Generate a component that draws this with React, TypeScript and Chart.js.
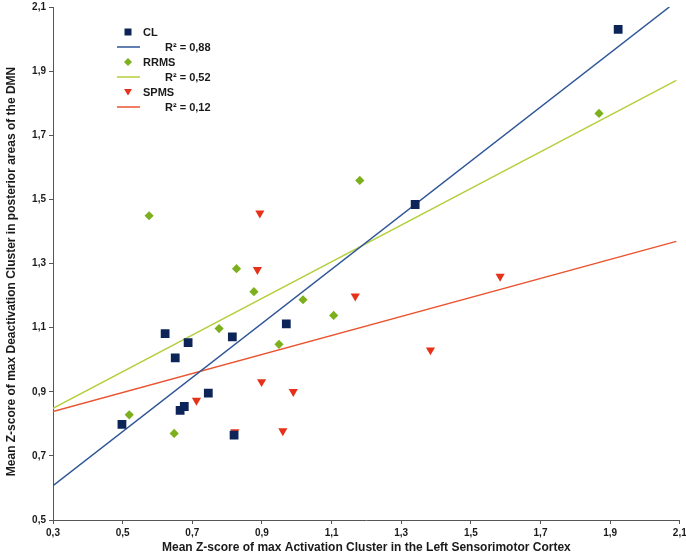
import React, { useEffect, useRef } from "react";
import { Chart, registerables } from "chart.js";

Chart.register(...registerables);

// ---- data ----
const seriesNames = ["CL", "RRMS", "SPMS"];
const r2Labels = ["R² = 0,88", "R² = 0,52", "R² = 0,12"];

const clX = [0.498, 0.622, 0.651, 0.688, 0.665, 0.677, 0.746, 0.815, 0.82, 0.97, 1.34, 1.923];
const clY = [0.798, 1.081, 1.006, 1.053, 0.842, 0.854, 0.896, 1.071, 0.765, 1.112, 1.484, 2.03];

const rrmsX = [0.519, 0.576, 0.648, 0.777, 0.827, 0.877, 0.949, 1.018, 1.106, 1.181, 1.868];
const rrmsY = [0.828, 1.449, 0.77, 1.097, 1.284, 1.212, 1.048, 1.187, 1.138, 1.559, 1.768];

const spmsX = [0.712, 0.822, 0.887, 0.894, 0.899, 0.96, 0.99, 1.168, 1.384, 1.584];
const spmsY = [0.873, 0.775, 1.281, 1.457, 0.931, 0.778, 0.9, 1.198, 1.03, 1.26];

const clFitX = [0.3, 2.07];
const clFitY = [0.607, 2.1];
const rrmsFitX = [0.3, 2.09];
const rrmsFitY = [0.848, 1.871];
const spmsFitX = [0.3, 2.09];
const spmsFitY = [0.838, 1.369];

const xTickValues = [0.3, 0.5, 0.7, 0.9, 1.1, 1.3, 1.5, 1.7, 1.9, 2.1];
const yTickValues = [0.5, 0.7, 0.9, 1.1, 1.3, 1.5, 1.7, 1.9, 2.1];

const xAxisTitle = "Mean Z-score of max Activation Cluster in the Left Sensorimotor Cortex";
const yAxisTitle = "Mean Z-score of max Deactivation Cluster in posterior areas of the DMN";

// ---- styles ----
const FONT = "'Liberation Sans', Arial, Helvetica, sans-serif";
const clColor = "#0c2458";
const clLine = "#2f5597";
const rrmsColor = "#7cb01c";
const rrmsLine = "#b4cf3c";
const spmsColor = "#e6321a";
const spmsLine = "#ea5430";
const axisColor = "#555555";
const textColor = "#1a1a1a";

const fmt = (v: number) => v.toFixed(1).replace(".", ",");
const pts = (xs: number[], ys: number[]) => xs.map((x, i) => ({ x, y: ys[i] }));

function drawMarker(ctx: CanvasRenderingContext2D, kind: string, x: number, y: number, color: string) {
  ctx.save();
  ctx.fillStyle = color;
  ctx.beginPath();
  if (kind === "rect") {
    ctx.rect(x - 3.5, y - 3.5, 7, 7);
  } else if (kind === "rectRot") {
    ctx.moveTo(x, y - 4);
    ctx.lineTo(x + 4, y);
    ctx.lineTo(x, y + 4);
    ctx.lineTo(x - 4, y);
    ctx.closePath();
  } else {
    ctx.moveTo(x - 4, y - 3);
    ctx.lineTo(x + 4, y - 3);
    ctx.lineTo(x, y + 3.5);
    ctx.closePath();
  }
  ctx.fill();
  ctx.restore();
}

const overlayPlugin = {
  id: "overlay",
  afterDraw(chart: any) {
    const ctx: CanvasRenderingContext2D = chart.ctx;
    const area = chart.chartArea;
    ctx.save();
    ctx.fillStyle = textColor;
    ctx.font = `bold 12px ${FONT}`;
    ctx.textAlign = "center";
    ctx.textBaseline = "middle";
    // x title
    ctx.fillText(xAxisTitle, (area.left + area.right) / 2, 548);
    // y title
    ctx.save();
    ctx.translate(12, (area.top + area.bottom) / 2 + 8);
    ctx.rotate(-Math.PI / 2);
    ctx.fillText(yAxisTitle, 0, 0);
    ctx.restore();

    // legend
    const markers = ["rect", "rectRot", "triangle"];
    const mColors = [clColor, rrmsColor, spmsColor];
    const lColors = [clLine, rrmsLine, spmsLine];
    ctx.font = `bold 11px ${FONT}`;
    ctx.textAlign = "left";
    ctx.textBaseline = "middle";
    for (let i = 0; i < 3; i++) {
      const y1 = 32 + i * 30;
      const y2 = y1 + 15;
      drawMarker(ctx, markers[i], 128, y1, mColors[i]);
      ctx.fillStyle = textColor;
      ctx.fillText(seriesNames[i], 143, y1 + 0.5);
      ctx.strokeStyle = lColors[i];
      ctx.lineWidth = 1.5;
      ctx.beginPath();
      ctx.moveTo(117, y2);
      ctx.lineTo(140, y2);
      ctx.stroke();
      ctx.fillText(r2Labels[i], 165, y2 + 0.5);
    }
    ctx.restore();
  },
};

export default function App() {
  const ref = useRef<HTMLCanvasElement | null>(null);

  useEffect(() => {
    document.body.style.margin = "0";
    const canvas = ref.current;
    if (!canvas) return;
    Chart.defaults.font.family = FONT;

    const lineDs = (label: string, xs: number[], ys: number[], color: string) => ({
      type: "line" as const,
      label,
      data: pts(xs, ys),
      showLine: true,
      borderColor: color,
      backgroundColor: color,
      borderWidth: 1.5,
      pointRadius: 0,
      fill: false,
      order: 2,
    });

    const chart = new Chart(canvas, {
      type: "scatter",
      data: {
        datasets: [
          lineDs("CL fit", clFitX, clFitY, clLine),
          lineDs("RRMS fit", rrmsFitX, rrmsFitY, rrmsLine),
          lineDs("SPMS fit", spmsFitX, spmsFitY, spmsLine),
          {
            label: seriesNames[0],
            data: pts(clX, clY),
            pointStyle: "rect",
            pointRadius: 6.2,
            backgroundColor: clColor,
            borderColor: clColor,
            borderWidth: 0,
            order: 1,
          },
          {
            label: seriesNames[1],
            data: pts(rrmsX, rrmsY),
            pointStyle: "rectRot",
            pointRadius: 4.6,
            backgroundColor: rrmsColor,
            borderColor: rrmsColor,
            borderWidth: 0,
            order: 1,
          },
          {
            label: seriesNames[2],
            data: pts(spmsX, spmsY),
            pointStyle: "triangle",
            rotation: 180,
            pointRadius: 5.3,
            backgroundColor: spmsColor,
            borderColor: spmsColor,
            borderWidth: 0,
            order: 1,
          },
        ],
      } as any,
      options: {
        responsive: false,
        animation: false,
        devicePixelRatio: 1,
        layout: { padding: { top: 7, right: 6, left: 0, bottom: 0 } },
        plugins: {
          legend: { display: false },
          tooltip: { enabled: false },
        },
        scales: {
          x: {
            type: "linear",
            min: 0.3,
            max: 2.1,
            afterBuildTicks: (scale: any) => {
              scale.ticks = xTickValues.map((v) => ({ value: v }));
            },
            afterFit: (scale: any) => {
              scale.height = 37;
              scale.paddingLeft = 0;
              scale.paddingRight = 0;
            },
            grid: {
              display: true,
              drawOnChartArea: false,
              drawTicks: true,
              tickLength: 4,
              color: axisColor,
            },
            border: { display: true, color: axisColor, width: 1 },
            ticks: {
              padding: 3,
              color: textColor,
              font: { size: 10, weight: "bold" },
              maxRotation: 0,
              autoSkip: false,
              callback: (v: any) => fmt(Number(v)),
            },
          },
          y: {
            type: "linear",
            min: 0.5,
            max: 2.1,
            afterBuildTicks: (scale: any) => {
              scale.ticks = yTickValues.map((v) => ({ value: v }));
            },
            afterFit: (scale: any) => {
              scale.width = 53;
              scale.paddingTop = 0;
              scale.paddingBottom = 0;
            },
            grid: {
              display: true,
              drawOnChartArea: false,
              drawTicks: true,
              tickLength: 4,
              color: axisColor,
            },
            border: { display: true, color: axisColor, width: 1 },
            ticks: {
              padding: 3,
              color: textColor,
              font: { size: 10, weight: "bold" },
              autoSkip: false,
              callback: (v: any) => fmt(Number(v)),
            },
          },
        },
      } as any,
      plugins: [overlayPlugin],
    });

    return () => chart.destroy();
  }, []);

  return (
    <div style={{ width: 686, height: 557, background: "#ffffff" }}>
      <canvas ref={ref} width={686} height={557} style={{ display: "block" }} />
    </div>
  );
}
